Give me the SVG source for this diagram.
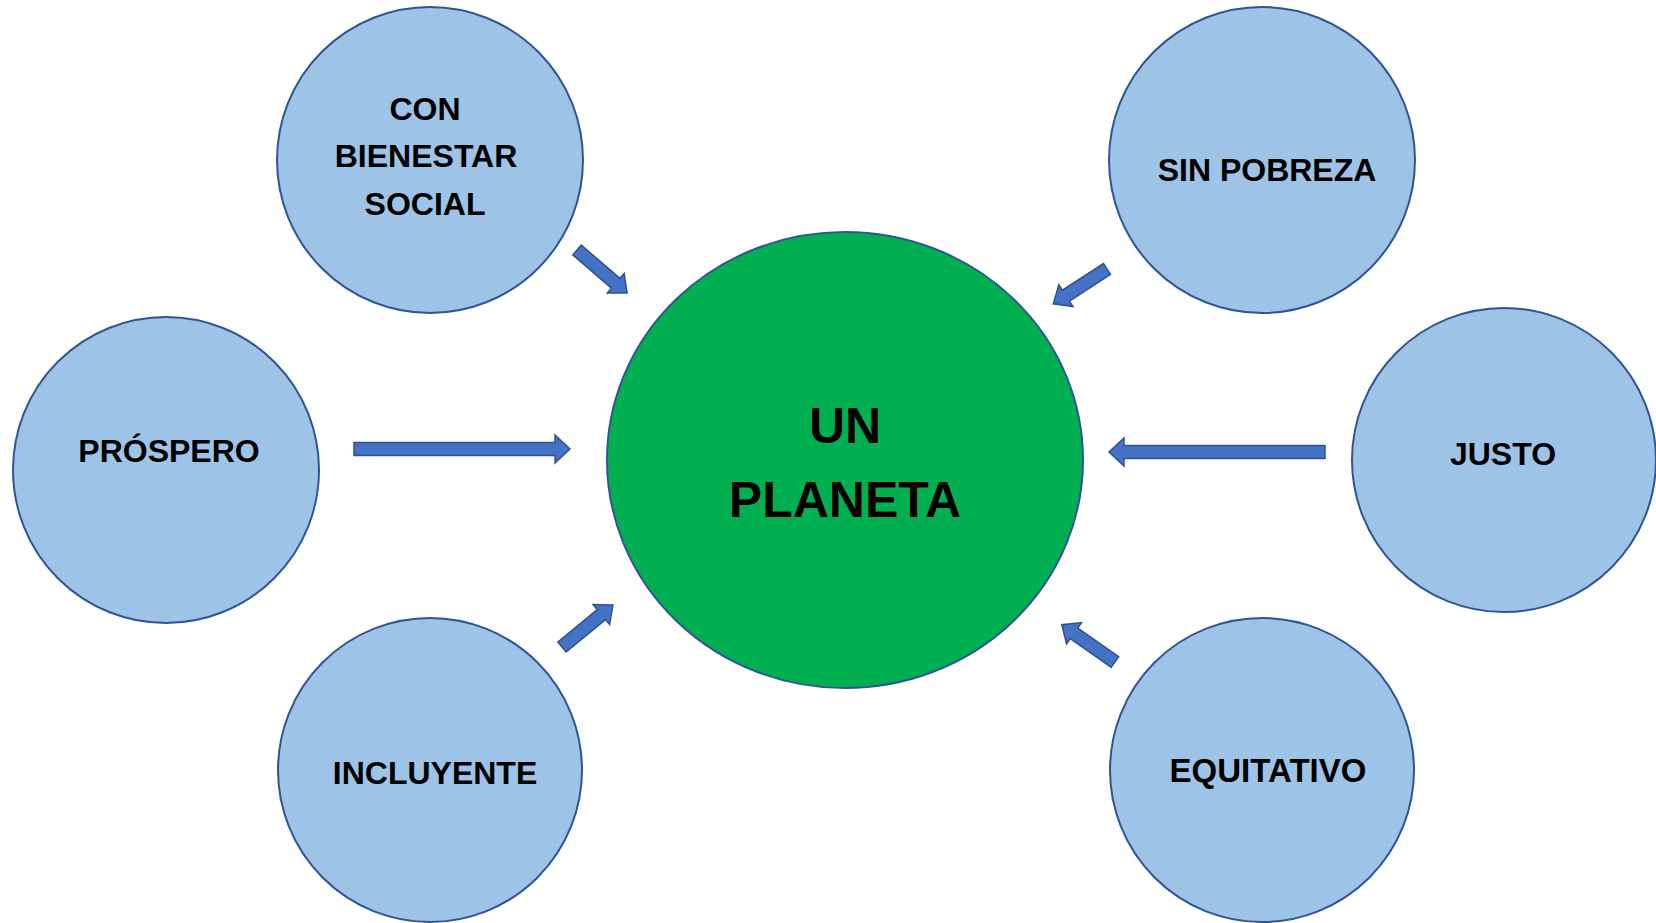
<svg xmlns="http://www.w3.org/2000/svg" width="1656" height="923" viewBox="0 0 1656 923">
<style>
.node{fill:#9DC3E6;stroke:#2F5597;stroke-width:2}
.center{fill:#00B050;stroke:#2F5597;stroke-width:2}
.lbl{font-family:"Liberation Sans",Arial,sans-serif;font-weight:bold;font-size:32px;fill:#000;text-anchor:middle}
.big{font-size:50px}
.arr{fill:#4472C4;stroke:#2F528F;stroke-width:1.5;stroke-linejoin:miter}
</style>
<rect width="1656" height="923" fill="#fff"/>
<g id="connectors">
<path class="arr" d="M0,-6.5 L201,-6.5 L201,-14 L216,0 L201,14 L201,6.5 L0,6.5 Z" transform="translate(354,449)"/>
<path class="arr" d="M0,-6.5 L201,-6.5 L201,-14 L216,0 L201,14 L201,6.5 L0,6.5 Z" transform="translate(1325,452) rotate(180)"/>
<path class="arr" d="M0,-6.5 L51,-6.5 L51,-13 L66,0 L51,13 L51,6.5 L0,6.5 Z" transform="translate(577,250) rotate(40.7)"/>
<path class="arr" d="M0,-6.5 L49,-6.5 L49,-13 L64,0 L49,13 L49,6.5 L0,6.5 Z" transform="translate(1107,269) rotate(147)"/>
<path class="arr" d="M0,-6.5 L51,-6.5 L51,-13 L66,0 L51,13 L51,6.5 L0,6.5 Z" transform="translate(562,647) rotate(-39.5)"/>
<path class="arr" d="M0,-6.5 L50,-6.5 L50,-13 L65,0 L50,13 L50,6.5 L0,6.5 Z" transform="translate(1115,662) rotate(-145)"/>
</g>
<g id="un-planeta">
<ellipse class="center" cx="845" cy="460" rx="238" ry="228"/>
<text class="lbl big" x="845" y="443">UN</text>
<text class="lbl big" x="845" y="517">PLANETA</text>
</g>
<g id="con-bienestar-social">
<circle class="node" cx="430" cy="160" r="153"/>
<text class="lbl" x="425" y="120">CON</text>
<text class="lbl" x="426" y="167">BIENESTAR</text>
<text class="lbl" x="425" y="215">SOCIAL</text>
</g>
<g id="sin-pobreza">
<circle class="node" cx="1262" cy="160" r="153"/>
<text class="lbl" x="1267" y="181">SIN POBREZA</text>
</g>
<g id="prospero">
<circle class="node" cx="166" cy="470" r="153"/>
<text class="lbl" x="169" y="462">PRÓSPERO</text>
</g>
<g id="justo">
<circle class="node" cx="1504" cy="460" r="152"/>
<text class="lbl" x="1503" y="465">JUSTO</text>
</g>
<g id="incluyente">
<circle class="node" cx="430" cy="770" r="152"/>
<text class="lbl" x="435" y="784">INCLUYENTE</text>
</g>
<g id="equitativo">
<circle class="node" cx="1262" cy="770" r="152"/>
<text class="lbl" x="1268" y="782" style="font-size:33px">EQUITATIVO</text>
</g>
</svg>
